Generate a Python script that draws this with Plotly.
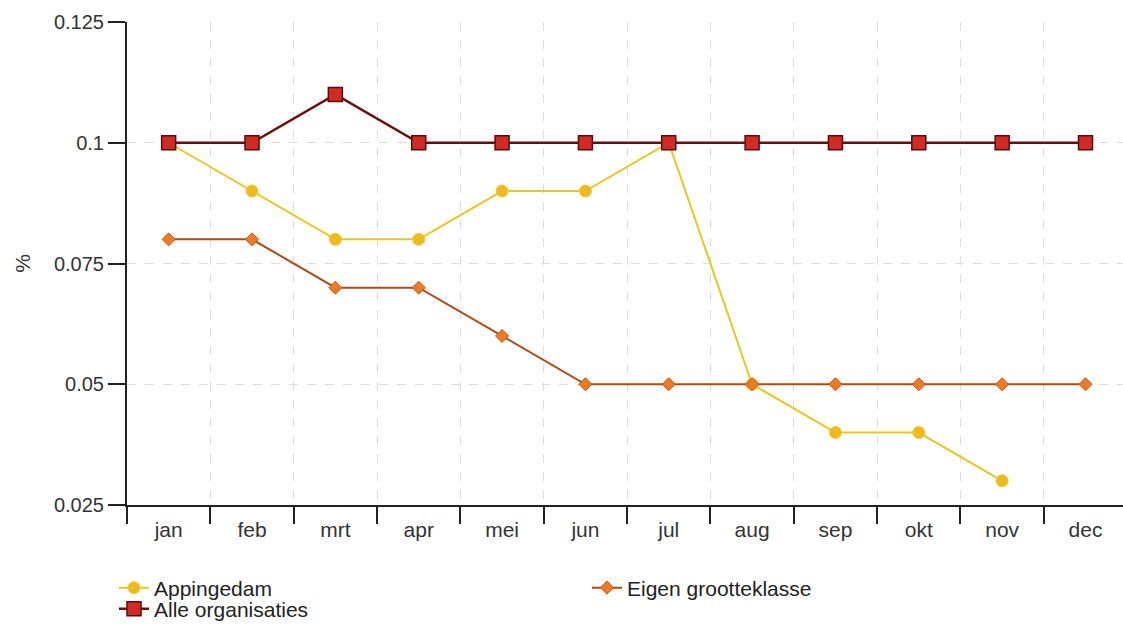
import plotly.graph_objects as go

months = ["jan", "feb", "mrt", "apr", "mei", "jun", "jul", "aug", "sep", "okt", "nov", "dec"]
appingedam = [0.10, 0.09, 0.08, 0.08, 0.09, 0.09, 0.10, 0.05, 0.04, 0.04, 0.03, None]
eigen = [0.08, 0.08, 0.07, 0.07, 0.06, 0.05, 0.05, 0.05, 0.05, 0.05, 0.05, 0.05]
alle = [0.10, 0.10, 0.11, 0.10, 0.10, 0.10, 0.10, 0.10, 0.10, 0.10, 0.10, 0.10]
y_ticks = [0.025, 0.05, 0.075, 0.1, 0.125]
y_tick_text = ["0.025", "0.05", "0.075", "0.1", "0.125"]

FONT = "Liberation Sans, Arial, sans-serif"

fig = go.Figure()
fig.add_trace(go.Scatter(
    x=months, y=appingedam, name="Appingedam", mode="lines+markers",
    line=dict(color="#e6c81e", width=2),
    marker=dict(symbol="circle", size=12, color="#f2b91c", line=dict(color="#eec83a", width=1)),
    connectgaps=False, legend="legend",
))
fig.add_trace(go.Scatter(
    x=months, y=eigen, name="Eigen grootteklasse", mode="lines+markers",
    line=dict(color="#b24a14", width=2),
    marker=dict(symbol="diamond", size=10, color="#f07a22", line=dict(color="#c8541a", width=1)),
    legend="legend2",
))
fig.add_trace(go.Scatter(
    x=months, y=alle, name="Alle organisaties", mode="lines+markers",
    line=dict(color="#6e0c0c", width=2.5),
    marker=dict(symbol="square", size=14, color="#d42a26", line=dict(color="#5a0c0c", width=1.5)),
    legend="legend3",
))

leg_common = dict(
    orientation="h", xanchor="left", yanchor="middle",
    font=dict(family=FONT, size=21, color="#222222"),
    itemwidth=30, bgcolor="rgba(0,0,0,0)", borderwidth=0,
)
H = 483.0
W = 996.0
def ypaper(py):
    return (505 - py) / H
def xpaper(px):
    return (px - 127) / W

fig.update_layout(
    width=1123, height=625,
    margin=dict(l=127, r=0, t=22, b=120, autoexpand=False),
    paper_bgcolor="white", plot_bgcolor="white",
    font=dict(family=FONT, size=20, color="#333333"),
    showlegend=True,
    legend=dict(x=xpaper(114), y=ypaper(588), **leg_common),
    legend2=dict(x=xpaper(587), y=ypaper(588), **leg_common),
    legend3=dict(x=xpaper(114), y=ypaper(609), **leg_common),
)
fig.update_xaxes(
    type="category", categoryorder="array", categoryarray=months,
    range=[-0.5, 11.45], tickson="boundaries",
    showline=True, linecolor="#222222", linewidth=2,
    ticks="outside", ticklen=17, tickwidth=2, tickcolor="#222222",
    showgrid=True, gridcolor="#dddddd", griddash="dash", gridwidth=1,
    tickfont=dict(family=FONT, size=21, color="#333333"),
    ticklabelstandoff=5,
    zeroline=False, automargin=False,
)
fig.update_yaxes(
    range=[0.025, 0.125], tickvals=y_ticks, ticktext=y_tick_text,
    showline=True, linecolor="#222222", linewidth=2,
    ticks="outside", ticklen=17, tickwidth=2, tickcolor="#222222",
    showgrid=True, gridcolor="#dddddd", griddash="dash", gridwidth=1,
    tickfont=dict(family=FONT, size=20, color="#333333"),
    title=dict(text="%", font=dict(family=FONT, size=21, color="#333333"), standoff=18),
    zeroline=False, automargin=False,
)

fig.write_html(
    "out.html",
    config={"displayModeBar": False},
    post_script="document.body.style.margin='0';document.body.style.overflow='hidden';",
)
